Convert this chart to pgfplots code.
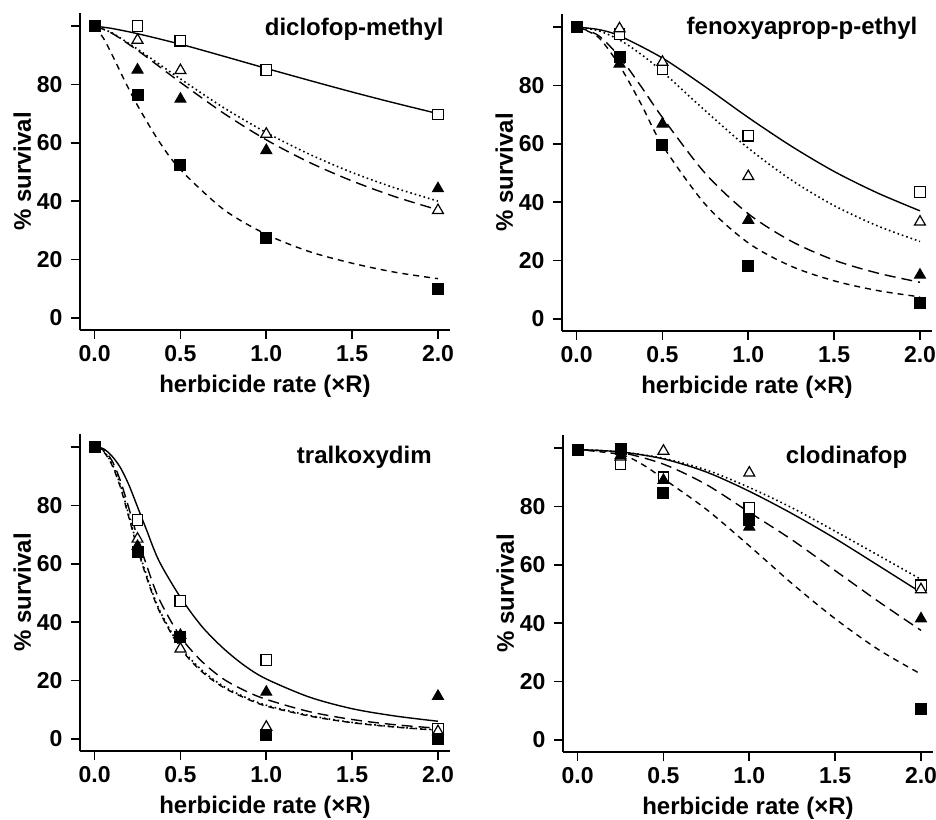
\documentclass[border=0pt]{standalone}
\usepackage{fontspec}
\setmainfont{Liberation Sans}
\usepackage{pgfplots}
\pgfplotsset{compat=1.18}

\pgfplotsset{
  panel/.style={
    scale only axis, width=370pt, height=317pt,
    anchor=south west,
    xmin=-0.085, xmax=2.07, ymin=-4.2, ymax=104.5,
    axis x line*=bottom, axis y line*=left,
    axis line style={line width=1.8pt, -},
    xtick={0,0.5,1,1.5,2},
    xticklabels={0.0,0.5,1.0,1.5,2.0},
    ytick={0,20,40,60,80,100},
    yticklabels={0,20,40,60,80,{}},
    tick style={line width=1.6pt, black},
    major tick length=9pt,
    tick align=outside,
    /pgf/number format/assume math mode=true,
    tick label style={font=\fontsize{23}{26}\selectfont\bfseries},
    xticklabel style={yshift=-3pt},
    yticklabel style={xshift=-5pt},
    label style={font=\fontsize{24}{28}\selectfont\bfseries},
    xlabel style={yshift=-6pt},
    ylabel style={yshift=-1pt},
    xlabel={herbicide rate (×R)},
    ylabel={\% survival},
    clip=false,
  },
  csolid/.style={line width=1.4pt, black, no marks, smooth},
  cdot/.style={line width=1.6pt, black, no marks, smooth, dash pattern=on 1.6pt off 3pt},
  clong/.style={line width=1.4pt, black, no marks, smooth, dash pattern=on 11pt off 6pt},
  cshort/.style={line width=1.4pt, black, no marks, smooth, dash pattern=on 6pt off 5pt},
  osq/.style={only marks, mark=square*, mark size=5.3pt, mark options={fill=white, draw=black, line width=1.3pt}},
  otri/.style={only marks, mark=triangle*, mark size=6.3pt, mark options={fill=white, draw=black, line width=1.2pt}},
  ftri/.style={only marks, mark=triangle*, mark size=6.3pt, mark options={fill=black, draw=black, line width=1pt}},
  fsq/.style={only marks, mark=square*, mark size=5.5pt, mark options={fill=black, draw=black, line width=1pt}},
}
\tikzset{ttl/.style={anchor=base east, font=\fontsize{24}{28}\selectfont\bfseries}}

\begin{document}
\begin{tikzpicture}
\path[use as bounding box] (0,0) rectangle (936pt,819pt);

% diclofop-methyl
\begin{axis}[panel, at={(80pt,489pt)}]
\addplot[csolid] coordinates {(0,100) (0.1,99.2) (0.25,97.4) (0.5,93.8) (0.75,89.7) (1,85.5) (1.25,81.4) (1.5,77.4) (1.75,73.6) (2,70)};
\addplot[cdot] coordinates {(0,100) (0.1,97.7) (0.25,92.1) (0.375,87.0) (0.5,81.9) (0.75,72.1) (1,63.5) (1.25,56.1) (1.5,49.8) (1.75,44.5) (2,40)};
\addplot[clong] coordinates {(0,100) (0.1,97.6) (0.25,91.7) (0.375,86.2) (0.5,80.7) (0.75,70.2) (1,61) (1.25,53.3) (1.5,46.9) (1.75,41.5) (2,37)};
\addplot[cshort] coordinates {(0,100) (0.05,96.0) (0.1,90.4) (0.175,81.3) (0.25,72.8) (0.375,60.5) (0.5,50.8) (0.75,37.2) (1,28.6) (1.25,22.7) (1.5,18.7) (1.75,15.6) (2,13.4)};
\addplot[osq] coordinates {(0.25,100) (0.5,95) (1,85) (2,69.7)};
\addplot[otri] coordinates {(0.25,95.2) (0.5,84.8) (1,63) (2,36.8)};
\addplot[ftri] coordinates {(0.25,85) (0.5,75) (1,57.4) (2,44.3)};
\addplot[fsq] coordinates {(0,100) (0.25,76.5) (0.5,52.3) (1,27.3) (2,9.8)};
\node[ttl] at (rel axis cs:0.992,0.93) {diclofop-methyl};
\end{axis}

% fenoxyaprop-p-ethyl
\begin{axis}[panel, at={(562pt,488pt)}]
\addplot[csolid] coordinates {(0,100) (0.125,99.2) (0.25,97.0) (0.5,89.4) (0.75,79.5) (1,69) (1.25,59.2) (1.5,50.5) (1.75,43.2) (2,37)};
\addplot[cdot] coordinates {(0,100) (0.125,98.8) (0.25,95.6) (0.375,90.7) (0.5,84.7) (0.75,71.3) (1,58.5) (1.25,47.6) (1.5,38.8) (1.75,31.9) (2,26.5)};
\addplot[clong] coordinates {(0,100) (0.125,97.2) (0.25,89.8) (0.375,79.7) (0.5,69.0) (0.75,49.8) (1,36) (1.25,26.6) (1.5,20.1) (1.75,15.7) (2,12.5)};
\addplot[cshort] coordinates {(0,100) (0.125,96.6) (0.25,86.8) (0.375,73.7) (0.5,59.5) (0.75,39.2) (1,26) (1.25,18.0) (1.5,13.0) (1.75,9.7) (2,7.5)};
\addplot[osq] coordinates {(0.25,97.5) (0.5,85.5) (1,62.8) (2,43.5)};
\addplot[otri] coordinates {(0.25,99.5) (0.5,88) (1,48.8) (2,33.2)};
\addplot[ftri] coordinates {(0.25,87.4) (0.5,66.8) (1,33.8) (2,15)};
\addplot[fsq] coordinates {(0,100) (0.25,89.7) (0.5,59.5) (1,18.2) (2,5.3)};
\node[ttl] at (rel axis cs:0.97,0.934) {fenoxyaprop-p-ethyl};
\end{axis}

% tralkoxydim
\begin{axis}[panel, at={(80pt,68pt)}]
\addplot[csolid] coordinates {(0,100) (0.05,99.5) (0.1,97) (0.15,93) (0.2,87) (0.25,79.5) (0.3,72) (0.375,61) (0.5,48.5) (0.625,38.5) (0.75,31) (0.875,25) (1,20.5) (1.25,14.3) (1.5,10.3) (1.75,7.8) (2,6)};
\addplot[cdot] coordinates {(0,100) (0.05,98.8) (0.1,94.5) (0.15,87) (0.2,76.5) (0.25,66) (0.3,56.5) (0.375,44.5) (0.5,31.5) (0.625,23.5) (0.75,18) (0.875,14.3) (1,11.5) (1.25,8) (1.5,5.6) (1.75,4.1) (2,3.0)};
\addplot[clong] coordinates {(0,100) (0.05,99) (0.1,95.5) (0.15,88.5) (0.2,79) (0.25,69) (0.3,60) (0.375,48) (0.5,35) (0.625,26.5) (0.75,20.5) (0.875,16.5) (1,13.5) (1.25,9.3) (1.5,6.6) (1.75,4.8) (2,3.6)};
\addplot[cshort] coordinates {(0,100) (0.05,98.6) (0.1,94) (0.15,86.3) (0.2,75.8) (0.25,65.2) (0.3,55.8) (0.375,44) (0.5,31) (0.625,23) (0.75,17.6) (0.875,14) (1,11.2) (1.25,7.8) (1.5,5.5) (1.75,4.0) (2,2.9)};
\addplot[osq] coordinates {(0.25,75) (0.5,47.2) (1,27) (2,3.3)};
\addplot[otri] coordinates {(0.25,68.5) (0.5,30.8) (1,4) (2,2.5)};
\addplot[ftri] coordinates {(0.25,66) (0.5,35.5) (1,16) (2,14.6)};
\addplot[fsq] coordinates {(0,100) (0.25,64) (0.5,35) (1,1.2) (2,0)};
\node[ttl] at (rel axis cs:0.96,0.908) {tralkoxydim};
\end{axis}

% clodinafop
\begin{axis}[panel, at={(563pt,67pt)}]
\addplot[csolid] coordinates {(0,99.5) (0.25,98.7) (0.5,96.3) (0.75,91.8) (1,85.2) (1.25,77.5) (1.5,69) (1.75,59.8) (2,50.5)};
\addplot[cdot] coordinates {(0,99.5) (0.25,98.7) (0.5,96.5) (0.75,92.5) (1,86.5) (1.25,79.5) (1.5,71.5) (1.75,63.3) (2,55)};
\addplot[clong] coordinates {(0,99.5) (0.25,98.5) (0.5,94.5) (0.75,87.5) (1,78) (1.25,68.5) (1.5,58) (1.75,47.5) (2,37.5)};
\addplot[cshort] coordinates {(0,99.5) (0.25,97.8) (0.375,94.5) (0.5,89.5) (0.75,79) (1,66.5) (1.25,53.5) (1.5,41.5) (1.75,31) (2,22.5)};
\addplot[osq] coordinates {(0.25,94.5) (0.5,90) (1,79.5) (2,53)};
\addplot[otri] coordinates {(0.25,97) (0.5,99) (1,91.5) (2,51.5)};
\addplot[ftri] coordinates {(0.25,97.5) (0.5,89) (1,73) (2,41.5)};
\addplot[fsq] coordinates {(0,99.5) (0.25,99.8) (0.5,84.5) (1,75.5) (2,10.5)};
\node[ttl] at (rel axis cs:0.94,0.91) {clodinafop};
\end{axis}
\end{tikzpicture}
\end{document}
